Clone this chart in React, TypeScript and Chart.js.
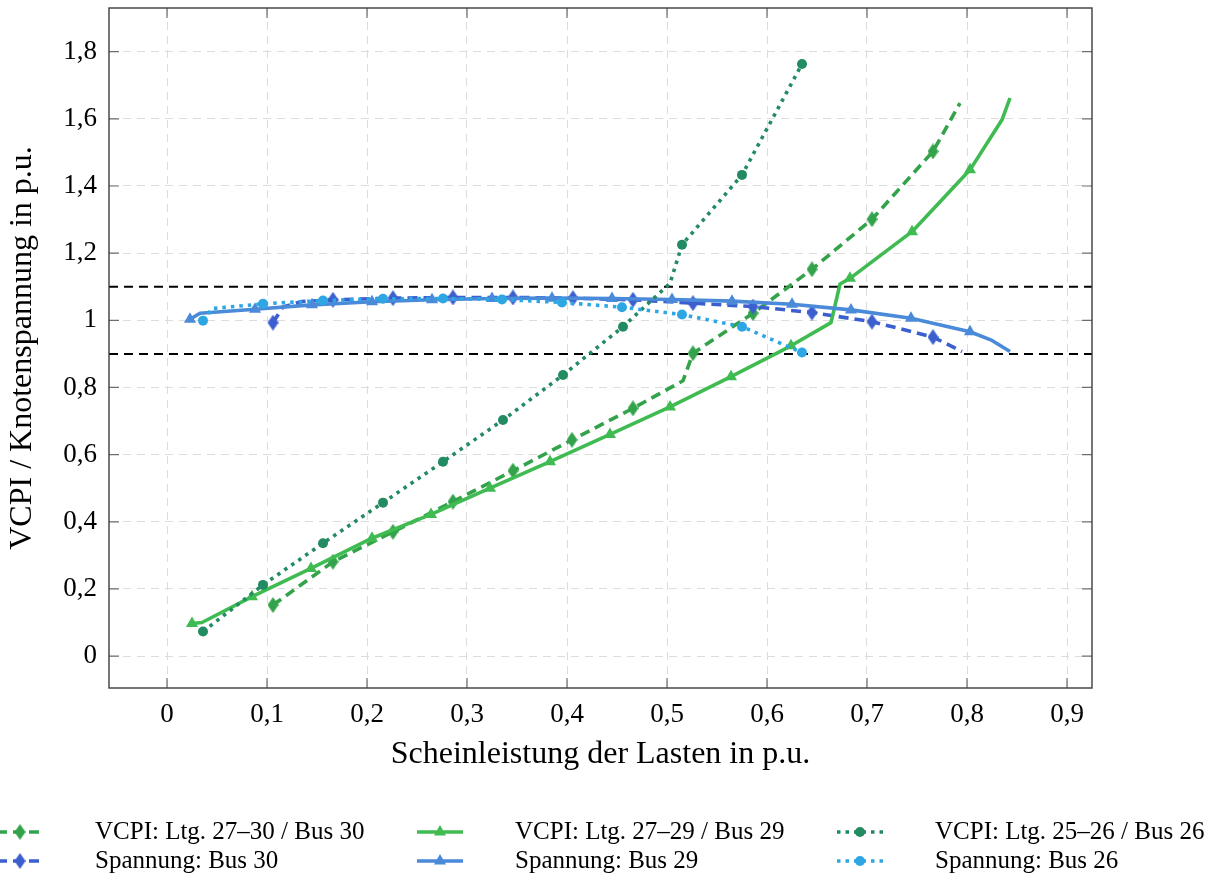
import React, { useEffect, useRef } from "react";
import { Chart, registerables } from "chart.js";

Chart.register(...registerables);

// ---------- axis ticks & reference lines ----------
const xTicks = [0, 0.1, 0.2, 0.3, 0.4, 0.5, 0.6, 0.7, 0.8, 0.9];
const yTicks = [0, 0.2, 0.4, 0.6, 0.8, 1.0, 1.2, 1.4, 1.6, 1.8];
const limitLines = [0.9, 1.1];

// ---------- series (x = Scheinleistung, y = VCPI / Spannung) ----------
// VCPI: Ltg. 27–30 / Bus 30
const vcpi30X = [0.106, 0.166, 0.226, 0.286, 0.346, 0.405, 0.466, 0.516, 0.526, 0.586, 0.645, 0.705, 0.766, 0.793];
const vcpi30Y = [0.152, 0.281, 0.370, 0.460, 0.552, 0.644, 0.738, 0.820, 0.902, 1.021, 1.152, 1.301, 1.503, 1.647];
const vcpi30Bends = [7, 13];

// Spannung: Bus 30
const span30X = [0.106, 0.116, 0.135, 0.166, 0.226, 0.286, 0.346, 0.406, 0.466, 0.526, 0.586, 0.645, 0.705, 0.766, 0.795];
const span30Y = [0.993, 1.040, 1.056, 1.061, 1.066, 1.068, 1.068, 1.066, 1.061, 1.051, 1.041, 1.023, 0.996, 0.950, 0.907];
const span30Bends = [1, 2, 14];

// VCPI: Ltg. 27–29 / Bus 29
const vcpi29X = [0.025, 0.035, 0.085, 0.144, 0.205, 0.264, 0.323, 0.383, 0.443, 0.503, 0.564, 0.624, 0.664, 0.673, 0.683, 0.745, 0.803, 0.835, 0.843];
const vcpi29Y = [0.097, 0.100, 0.177, 0.261, 0.351, 0.422, 0.500, 0.579, 0.660, 0.742, 0.832, 0.924, 0.993, 1.108, 1.125, 1.264, 1.448, 1.597, 1.662];
const vcpi29Bends = [1, 12, 13, 17, 18];

// Spannung: Bus 29
const span29X = [0.023, 0.033, 0.088, 0.145, 0.205, 0.265, 0.325, 0.385, 0.445, 0.505, 0.565, 0.625, 0.684, 0.744, 0.803, 0.825, 0.843];
const span29Y = [1.003, 1.021, 1.033, 1.046, 1.055, 1.061, 1.065, 1.066, 1.065, 1.062, 1.057, 1.048, 1.031, 1.006, 0.966, 0.940, 0.907];
const span29Bends = [1, 15, 16];

// VCPI: Ltg. 25–26 / Bus 26
const vcpi26X = [0.036, 0.096, 0.156, 0.216, 0.276, 0.336, 0.396, 0.456, 0.503, 0.515, 0.575, 0.635];
const vcpi26Y = [0.073, 0.212, 0.336, 0.457, 0.579, 0.703, 0.837, 0.981, 1.110, 1.225, 1.433, 1.763];
const vcpi26Bends = [8];

// Spannung: Bus 26
const span26X = [0.036, 0.045, 0.096, 0.156, 0.216, 0.276, 0.335, 0.395, 0.455, 0.515, 0.575, 0.635];
const span26Y = [0.999, 1.035, 1.049, 1.059, 1.064, 1.065, 1.062, 1.053, 1.039, 1.017, 0.981, 0.904];
const span26Bends = [1];

const FONT = "'Liberation Serif', 'DejaVu Serif', serif";

function makeDiamond(color: string): HTMLCanvasElement {
  const c = document.createElement("canvas");
  c.width = 11;
  c.height = 16;
  const g = c.getContext("2d")!;
  g.fillStyle = color;
  g.beginPath();
  g.moveTo(5.5, 0);
  g.lineTo(11, 8);
  g.lineTo(5.5, 16);
  g.lineTo(0, 8);
  g.closePath();
  g.fill();
  return c;
}

type Spec = {
  label: string;
  xs: number[];
  ys: number[];
  bends: number[];
  color: string;
  dash: number[];
  marker: "diamond" | "triangle" | "circle";
};

const fmt = (v: number) => {
  const r = Math.round(v * 10) / 10;
  return Number.isInteger(r) ? String(r) : r.toFixed(1).replace(".", ",");
};

export default function App() {
  const ref = useRef<HTMLCanvasElement | null>(null);

  useEffect(() => {
    document.body.style.margin = "0";
    const canvas = ref.current!;
    const DASHED = [10, 6];
    const DOTTED = [3.5, 5];
    const LW = 3.6;
    const TRI = 7;
    const CIRC = 5;
    const specs: Spec[] = [
      { label: "VCPI: Ltg. 27–30 / Bus 30", xs: vcpi30X, ys: vcpi30Y, bends: vcpi30Bends, color: "#33a34b", dash: DASHED, marker: "diamond" },
      { label: "Spannung: Bus 30", xs: span30X, ys: span30Y, bends: span30Bends, color: "#3b5fcf", dash: DASHED, marker: "diamond" },
      { label: "VCPI: Ltg. 27–29 / Bus 29", xs: vcpi29X, ys: vcpi29Y, bends: vcpi29Bends, color: "#3fbb52", dash: [], marker: "triangle" },
      { label: "Spannung: Bus 29", xs: span29X, ys: span29Y, bends: span29Bends, color: "#4a8ad9", dash: [], marker: "triangle" },
      { label: "VCPI: Ltg. 25–26 / Bus 26", xs: vcpi26X, ys: vcpi26Y, bends: vcpi26Bends, color: "#228b62", dash: DOTTED, marker: "circle" },
      { label: "Spannung: Bus 26", xs: span26X, ys: span26Y, bends: span26Bends, color: "#2ea6e3", dash: DOTTED, marker: "circle" },
    ];

    const styleOf = (s: Spec): any =>
      s.marker === "diamond" ? makeDiamond(s.color) : s.marker === "triangle" ? "triangle" : "circle";
    const radiusOf = (s: Spec) => (s.marker === "triangle" ? TRI : s.marker === "circle" ? CIRC : 6);

    const datasets = specs.map((s, i) => ({
      label: s.label,
      data: s.xs.map((x, k) => ({ x, y: s.ys[k] })),
      borderColor: s.color,
      backgroundColor: s.color,
      borderWidth: LW,
      borderDash: s.dash,
      borderCapStyle: "butt" as const,
      borderJoinStyle: "round" as const,
      showLine: true,
      tension: 0,
      order: specs.length - i,
      pointStyle: styleOf(s),
      pointRadius: (ctx: any) => (s.bends.includes(ctx.dataIndex) ? 0 : radiusOf(s)),
      pointHoverRadius: 0,
      pointBorderWidth: 0,
      pointBackgroundColor: s.color,
      pointBorderColor: s.color,
    }));

    const framePlugin = {
      id: "frame",
      beforeDatasetsDraw(chart: any) {
        const { ctx, chartArea: a, scales } = chart;
        ctx.save();
        ctx.strokeStyle = "#000";
        ctx.lineWidth = 2;
        ctx.setLineDash([9, 6]);
        for (const v of limitLines) {
          const y = scales.y.getPixelForValue(v);
          ctx.beginPath();
          ctx.moveTo(a.left, y);
          ctx.lineTo(a.right, y);
          ctx.stroke();
        }
        ctx.restore();
      },
      afterDatasetsDraw(chart: any) {
        const { ctx, chartArea: a, scales } = chart;
        ctx.save();
        ctx.setLineDash([]);
        ctx.strokeStyle = "#6e6e6e";
        ctx.lineWidth = 1.2;
        const L = 10;
        for (const v of xTicks) {
          const x = scales.x.getPixelForValue(v);
          ctx.beginPath();
          ctx.moveTo(x, a.bottom);
          ctx.lineTo(x, a.bottom - L);
          ctx.moveTo(x, a.top);
          ctx.lineTo(x, a.top + L);
          ctx.stroke();
        }
        for (const v of yTicks) {
          const y = scales.y.getPixelForValue(v);
          ctx.beginPath();
          ctx.moveTo(a.left, y);
          ctx.lineTo(a.left + L, y);
          ctx.moveTo(a.right, y);
          ctx.lineTo(a.right - L, y);
          ctx.stroke();
        }
        ctx.strokeStyle = "#3c3c3c";
        ctx.lineWidth = 1.4;
        ctx.strokeRect(a.left, a.top, a.right - a.left, a.bottom - a.top);
        ctx.restore();
      },
      afterDraw(chart: any) {
        const { ctx } = chart;
        const sampleX = [20, 440, 860];
        const textX = [95, 515, 935];
        const rowY = [832, 861];
        ctx.save();
        specs.forEach((s, i) => {
          const col = Math.floor(i / 2);
          const row = i % 2;
          const cx = sampleX[col];
          const cy = rowY[row];
          ctx.strokeStyle = s.color;
          ctx.lineWidth = LW;
          ctx.setLineDash(s.dash);
          ctx.lineCap = "butt";
          ctx.beginPath();
          ctx.moveTo(cx - 23, cy);
          ctx.lineTo(cx + 23, cy);
          ctx.stroke();
          ctx.setLineDash([]);
          ctx.fillStyle = s.color;
          if (s.marker === "diamond") {
            ctx.drawImage(makeDiamond(s.color), cx - 5.5, cy - 8);
          } else if (s.marker === "triangle") {
            const r = TRI;
            ctx.beginPath();
            ctx.moveTo(cx, cy - r);
            ctx.lineTo(cx + r * Math.sin((2 * Math.PI) / 3), cy + r / 2);
            ctx.lineTo(cx - r * Math.sin((2 * Math.PI) / 3), cy + r / 2);
            ctx.closePath();
            ctx.fill();
          } else {
            ctx.beginPath();
            ctx.arc(cx, cy, CIRC, 0, Math.PI * 2);
            ctx.fill();
          }
          ctx.fillStyle = "#000";
          ctx.font = `25px ${FONT}`;
          ctx.textBaseline = "middle";
          ctx.textAlign = "left";
          ctx.fillText(s.label, textX[col], cy);
        });
        ctx.restore();
      },
    };

    const chart = new Chart(canvas, {
      type: "scatter",
      data: { datasets: datasets as any },
      plugins: [framePlugin],
      options: {
        responsive: false,
        animation: false,
        devicePixelRatio: 1,
        layout: { padding: { left: 0, top: 8, right: 119, bottom: 89 } },
        plugins: { legend: { display: false }, tooltip: { enabled: false } },
        scales: {
          x: {
            type: "linear",
            min: -0.058,
            max: 0.925,
            afterBuildTicks: (scale: any) => {
              scale.ticks = xTicks.map((v) => ({ value: v }));
            },
            afterFit: (scale: any) => {
              scale.height = 100;
              scale.paddingLeft = 0;
              scale.paddingRight = 0;
            },
            grid: { color: "#dcdcdc", lineWidth: 1, drawTicks: false },
            border: { display: false, dash: [8, 6] },
            ticks: {
              padding: 11,
              color: "#000",
              font: { family: FONT, size: 27 },
              callback: (v: any) => fmt(Number(v)),
            },
            title: {
              display: true,
              text: "Scheinleistung der Lasten in p.u.",
              color: "#000",
              font: { family: FONT, size: 32 },
              padding: { top: 4, bottom: 14 },
            },
          },
          y: {
            type: "linear",
            min: -0.095,
            max: 1.93,
            afterBuildTicks: (scale: any) => {
              scale.ticks = yTicks.map((v) => ({ value: v }));
            },
            afterFit: (scale: any) => {
              scale.width = 109;
              scale.paddingTop = 0;
              scale.paddingBottom = 0;
            },
            grid: { color: "#dcdcdc", lineWidth: 1, drawTicks: false },
            border: { display: false, dash: [8, 6] },
            ticks: {
              padding: 12,
              color: "#000",
              font: { family: FONT, size: 27 },
              callback: (v: any) => fmt(Number(v)),
            },
            title: {
              display: true,
              text: "VCPI / Knotenspannung in p.u.",
              color: "#000",
              font: { family: FONT, size: 32 },
              padding: { top: 3, bottom: 4 },
            },
          },
        },
      },
    });
    return () => chart.destroy();
  }, []);

  return <canvas ref={ref} width={1211} height={877} style={{ display: "block", width: 1211, height: 877 }} />;
}
